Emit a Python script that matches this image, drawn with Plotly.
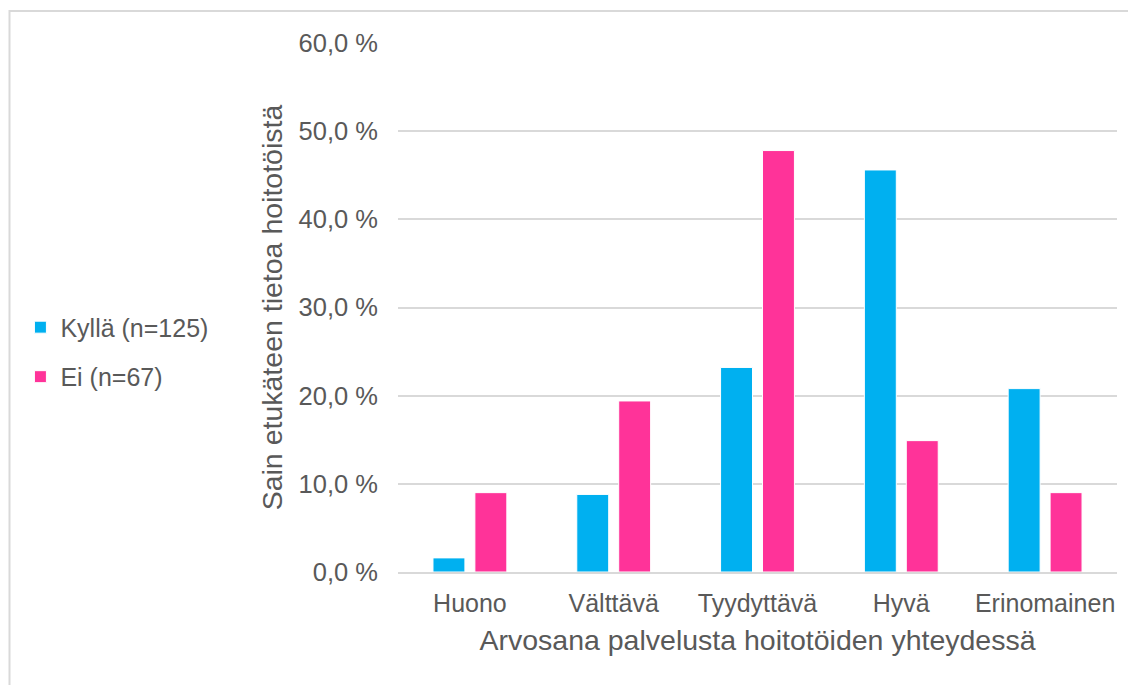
import plotly.graph_objects as go

categories = ["Huono", "Välttävä", "Tyydyttävä", "Hyvä", "Erinomainen"]
kylla = [1.6, 8.8, 23.2, 45.6, 20.8]
ei = [9.0, 19.4, 47.8, 14.9, 9.0]
y_ticks = [0, 10, 20, 30, 40, 50, 60]
y_tick_labels = ["0,0 %", "10,0 %", "20,0 %", "30,0 %", "40,0 %", "50,0 %", "60,0 %"]

grey_text = "#595959"
grid_col = "#d9d9d9"

fig = go.Figure()

fig.add_trace(go.Bar(
    x=categories,
    y=kylla,
    name="Kyllä (n=125)",
    legendgroup="a",
    marker=dict(color="#00b0f0", line=dict(color="white", width=1))
))

fig.add_trace(go.Bar(
    x=categories,
    y=ei,
    name="Ei (n=67)",
    legendgroup="b",
    marker=dict(color="#ff3399", line=dict(color="white", width=1))
))

# page body has an 8px margin, so the figure is a bit smaller than the window
fig.update_layout(
    width=1128,
    height=677,
    barmode="group",
    bargap=0.417,
    bargroupgap=0.238,
    paper_bgcolor="white",
    plot_bgcolor="white",
    font=dict(family="Liberation Sans, Arial", color=grey_text, size=25),
    margin=dict(l=390, r=19, t=35, b=113),
    legend=dict(
        xref="container",
        yref="container",
        x=0.011,
        y=0.492,
        xanchor="left",
        yanchor="middle",
        traceorder="grouped",
        tracegroupgap=14,
        font=dict(size=25, color=grey_text)
    ),
    xaxis=dict(
        title=dict(
            text="Arvosana palvelusta hoitotöiden yhteydessä",
            font=dict(size=28.5, color=grey_text),
            standoff=14
        ),
        showgrid=False,
        showline=True,
        linecolor=grid_col,
        linewidth=1.5,
        ticks="",
        tickfont=dict(size=25, color=grey_text),
        ticklabelstandoff=8
    ),
    yaxis=dict(
        title=dict(
            text="Sain etukäteen tietoa hoitotöistä",
            font=dict(size=28.5, color=grey_text),
            standoff=7
        ),
        range=[0, 60],
        tickvals=y_ticks,
        ticktext=y_tick_labels,
        showgrid=True,
        gridcolor=grid_col,
        gridwidth=1.5,
        zeroline=False,
        showline=False,
        ticks="",
        tickfont=dict(size=25.5, color=grey_text),
        ticklabelstandoff=19
    ),
    shapes=[
        dict(
            type="rect",
            xref="paper",
            yref="paper",
            x0=(9.5 - 398) / 719,
            x1=(1160 - 398) / 719,
            y0=-0.3,
            y1=1 + (43 - 11) / 529,
            line=dict(color=grid_col, width=2),
            fillcolor="rgba(0,0,0,0)",
            layer="below"
        )
    ],
    showlegend=True
)

fig.write_html("out.html")
